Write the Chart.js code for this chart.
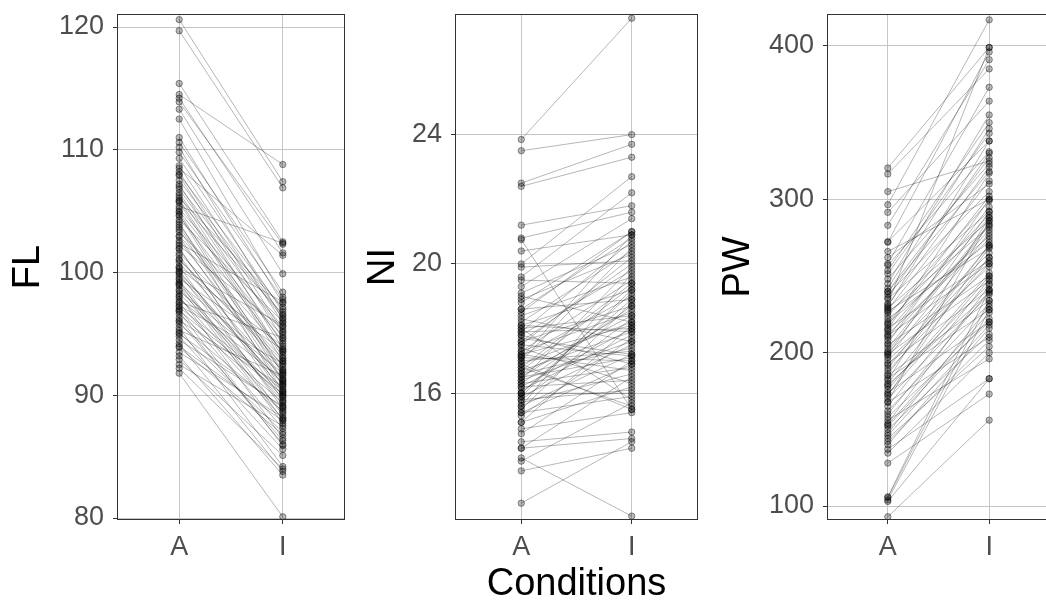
<!DOCTYPE html>
<html>
<head>
<meta charset="utf-8">
<script src="https://cdn.jsdelivr.net/npm/chart.js@4.4.1/dist/chart.umd.min.js"></script>
<style>
  html, body { margin: 0; padding: 0; background: #fff; width: 1046px; height: 601px; overflow: hidden; }
  .panel { position: absolute; top: 0; }
</style>
</head>
<body>
<div class="panel" style="left:0px"><canvas id="flChart" width="350" height="601"></canvas></div>
<div class="panel" style="left:350px"><canvas id="niChart" width="355" height="601"></canvas></div>
<div class="panel" style="left:705px"><canvas id="pwChart" width="350" height="601"></canvas></div>
<script>
const conditions = ["A", "I"];

// FL, paired: flA[i] -> flI[i]
const flA = [120.6, 119.7, 115.4, 114.5, 114.2, 113.9, 113.3, 112.5, 111.0, 110.6,
  110.2, 109.8, 109.3, 108.7, 108.5, 108.2, 107.9, 107.5, 107.2, 106.8,
  106.5, 106.1, 105.9, 105.7, 105.4, 105.2, 104.9, 104.6, 104.3, 103.9,
  103.5, 103.3, 102.9, 102.6, 102.2, 101.9, 101.6, 101.4, 101.1, 100.8,
  100.5, 100.3, 100.1, 99.9, 99.7, 99.4, 99.1, 98.9, 98.6, 98.3,
  98.1, 97.8, 97.5, 97.2, 97.0, 96.8, 96.6, 96.3, 96.1, 95.8,
  95.5, 95.3, 95.1, 94.8, 94.5, 94.2, 93.9, 93.5, 93.2, 92.9,
  92.5, 92.2, 91.8, 108.0, 107.0, 106.3, 105.0, 104.1, 103.0, 102.0,
  101.0, 100.0, 99.5, 99.0, 98.5, 98.0, 97.6, 96.9, 96.0, 95.0,
  94.0, 100.4, 102.4, 105.8, 104.7, 99.2, 97.3, 103.7];
const flI = [107.4, 106.9, 102.5, 108.8, 101.6, 102.3, 99.9, 98.0, 97.5, 98.4,
  96.2, 97.8, 96.8, 95.9, 101.4, 95.2, 94.6, 96.5, 93.8, 95.1,
  94.2, 97.2, 93.1, 92.8, 102.4, 95.6, 91.7, 93.5, 96.0, 92.3,
  91.1, 94.9, 90.8, 91.9, 95.4, 90.2, 93.0, 89.6, 92.5, 91.4,
  88.9, 94.0, 90.5, 89.2, 91.0, 88.4, 92.1, 87.7, 90.0, 89.8,
  86.5, 91.3, 88.1, 90.4, 87.3, 85.9, 89.4, 86.0, 90.7, 88.7,
  84.2, 91.6, 87.0, 85.6, 89.1, 83.8, 86.8, 88.2, 83.5, 85.1,
  87.5, 84.0, 80.1, 97.0, 96.3, 93.3, 94.4, 90.3, 93.6, 89.9,
  92.8, 90.9, 93.7, 89.5, 91.8, 88.6, 94.7, 90.1, 86.3, 89.0,
  87.9, 95.7, 97.6, 96.6, 91.2, 88.0, 92.6, 92.0];

// NI, paired
const niA = [23.85, 23.5, 22.5, 22.4, 21.2, 20.8, 20.75, 20.4, 20.0, 19.9,
  19.6, 19.5, 19.3, 19.1, 18.9, 18.6, 18.5, 18.3, 18.2, 18.1,
  18.0, 18.0, 17.9, 17.8, 17.7, 17.6, 17.5, 17.4, 17.3, 17.2,
  17.15, 17.1, 17.0, 16.9, 16.8, 16.7, 16.6, 16.5, 16.5, 16.4,
  16.3, 16.2, 16.1, 16.0, 16.0, 15.9, 15.8, 15.7, 15.6, 15.5,
  15.4, 15.3, 15.1, 15.1, 14.9, 14.75, 14.5, 14.3, 14.3, 14.0,
  13.9, 13.6, 12.6, 18.4, 18.1, 17.8, 17.6, 17.3, 17.0, 16.8,
  16.6, 16.4, 16.2, 16.0, 15.8, 15.6, 17.9, 17.2, 16.7, 16.3,
  15.9, 18.6, 17.5, 16.9, 15.4, 19.0, 18.8, 17.1];
const niI = [27.6, 24.0, 23.7, 23.3, 21.8, 21.6, 15.5, 20.9, 22.7, 20.1,
  22.2, 19.4, 21.4, 20.6, 20.3, 18.9, 21.0, 17.6, 20.4, 19.2,
  18.4, 15.8, 20.7, 19.8, 17.2, 18.7, 20.2, 16.3, 19.5, 18.1,
  19.0, 17.0, 20.5, 18.2, 15.6, 19.3, 17.4, 18.6, 17.1, 19.9,
  16.8, 18.0, 17.8, 16.0, 19.1, 17.5, 18.3, 16.6, 17.2, 18.8,
  15.9, 17.7, 16.2, 18.1, 15.4, 17.0, 14.8, 14.6, 16.5, 12.2,
  15.7, 14.3, 14.5, 19.6, 17.9, 16.9, 20.0, 18.5, 17.3, 19.4,
  18.4, 17.6, 16.4, 18.9, 16.1, 19.7, 18.0, 16.7, 17.9, 18.7,
  19.2, 20.8, 17.15, 15.5, 16.9, 18.2, 21.0, 20.9];

// PW, paired
const pwA = [320.4, 316.5, 305, 296.5, 291.5, 283, 272.4, 272, 266, 258,
  253.5, 257, 251.5, 245, 240, 239.6, 238, 235, 232, 231,
  229, 228, 226, 224, 222, 220, 218, 216, 214, 212,
  210, 208, 205, 203, 200, 199, 198.5, 197, 195, 193,
  190, 188, 185, 183.2, 182, 180, 178, 176, 174, 172,
  170, 167.6, 165, 162, 158, 156, 154, 153, 150, 147.6,
  144, 140, 137, 134.5, 128, 106, 105.5, 104, 103, 93,
  262, 248, 236, 227, 219, 211, 206, 201, 192, 186,
  179, 173, 168, 160, 152, 146, 142, 242, 230, 215];
const pwI = [399, 385, 325, 417, 364, 391, 338, 396, 300, 373,
  350, 331, 343, 355, 327, 318, 305, 292, 399, 321,
  286, 312, 282, 299, 272, 290, 302, 260, 288, 274,
  295, 280, 250, 284, 265, 247, 292, 278, 256, 241,
  270, 258, 234, 228, 288, 262, 245, 252, 220, 269,
  238, 210, 248, 232, 220, 196, 244, 226, 212, 230,
  204, 216, 183, 200, 173, 241, 234, 228, 183, 156,
  310, 323, 330, 268, 276, 258, 300, 283, 262, 270,
  239, 250, 286, 240, 222, 218, 208, 346, 338, 317];

const flTicks = [80, 90, 100, 110, 120];
const niTicks = [16, 20, 24];
const pwTicks = [100, 200, 300, 400];

const FONT = "'Liberation Sans', Arial, sans-serif";
const GRID = "#c6c6c6";

// outline around the plotting area
const panelBox = {
  id: "panelBox",
  afterDraw(chart) {
    const { ctx, chartArea: a } = chart;
    ctx.save();
    ctx.strokeStyle = "#333333";
    ctx.lineWidth = 1;
    ctx.strokeRect(a.left + 0.5, a.top + 0.5, a.right - a.left - 1, a.bottom - a.top - 1);
    ctx.restore();
  }
};

function pairedSets(before, after) {
  return before.map((v, i) => ({
    data: [{ x: 0, y: v }, { x: 1, y: after[i] }],
    borderColor: "rgba(0,0,0,0.36)",
    borderWidth: 0.8,
    pointRadius: 3.2,
    pointBackgroundColor: "rgba(0,0,0,0.27)",
    pointBorderColor: "rgba(0,0,0,0.4)",
    pointBorderWidth: 1
  }));
}

// keep the plot area fixed, no extra room for edge labels
function noEdgePad(s) {
  s.paddingTop = 0;
  s.paddingBottom = 0;
  s.paddingLeft = 0;
  s.paddingRight = 0;
}

function makePanel(id, opts) {
  return new Chart(document.getElementById(id), {
    type: "line",
    data: { datasets: pairedSets(opts.a, opts.i) },
    options: {
      responsive: false,
      animation: false,
      events: [],
      layout: { padding: { top: 14, right: opts.padRight, left: 0, bottom: 0 } },
      plugins: { legend: { display: false }, tooltip: { enabled: false } },
      scales: {
        x: {
          type: "linear",
          min: -0.6,
          max: 1.6,
          afterBuildTicks: s => { s.ticks = [0, 1].map(v => ({ value: v })); },
          afterFit: s => { s.height = 81; noEdgePad(s); },
          grid: { color: GRID, lineWidth: 1, tickLength: 4, tickColor: "#333333" },
          border: { display: false },
          ticks: {
            color: "#4d4d4d",
            font: { family: FONT, size: 27 },
            padding: 7,
            maxRotation: 0,
            callback: v => conditions[v]
          },
          title: {
            display: !!opts.xTitle,
            text: opts.xTitle || "",
            color: "#000",
            font: { family: FONT, size: 38 },
            padding: { top: 0, bottom: -6 }
          }
        },
        y: {
          type: "linear",
          min: opts.min,
          max: opts.max,
          afterBuildTicks: s => { s.ticks = opts.ticks.map(v => ({ value: v })); },
          afterFit: s => { s.width = opts.axisWidth; noEdgePad(s); },
          grid: { color: GRID, lineWidth: 1, tickLength: 4, tickColor: "#333333" },
          border: { display: false },
          ticks: { color: "#4d4d4d", font: { family: FONT, size: 27 }, padding: 9 },
          title: {
            display: true,
            text: opts.yTitle,
            color: "#000",
            font: { family: FONT, size: 38 },
            padding: { top: opts.titlePad, bottom: 0 }
          }
        }
      }
    },
    plugins: [panelBox]
  });
}

makePanel("flChart", { a: flA, i: flI, min: 79.84, max: 121.06, ticks: flTicks,
  yTitle: "FL", axisWidth: 117, padRight: 5, titlePad: 6 });
makePanel("niChart", { a: niA, i: niI, min: 12.08, max: 27.73, ticks: niTicks,
  yTitle: "NI", axisWidth: 105, padRight: 7, titlePad: 11, xTitle: "Conditions" });
makePanel("pwChart", { a: pwA, i: pwI, min: 90.9, max: 420.8, ticks: pwTicks,
  yTitle: "PW", axisWidth: 122, padRight: 3, titlePad: 11 });
</script>
</body>
</html>
